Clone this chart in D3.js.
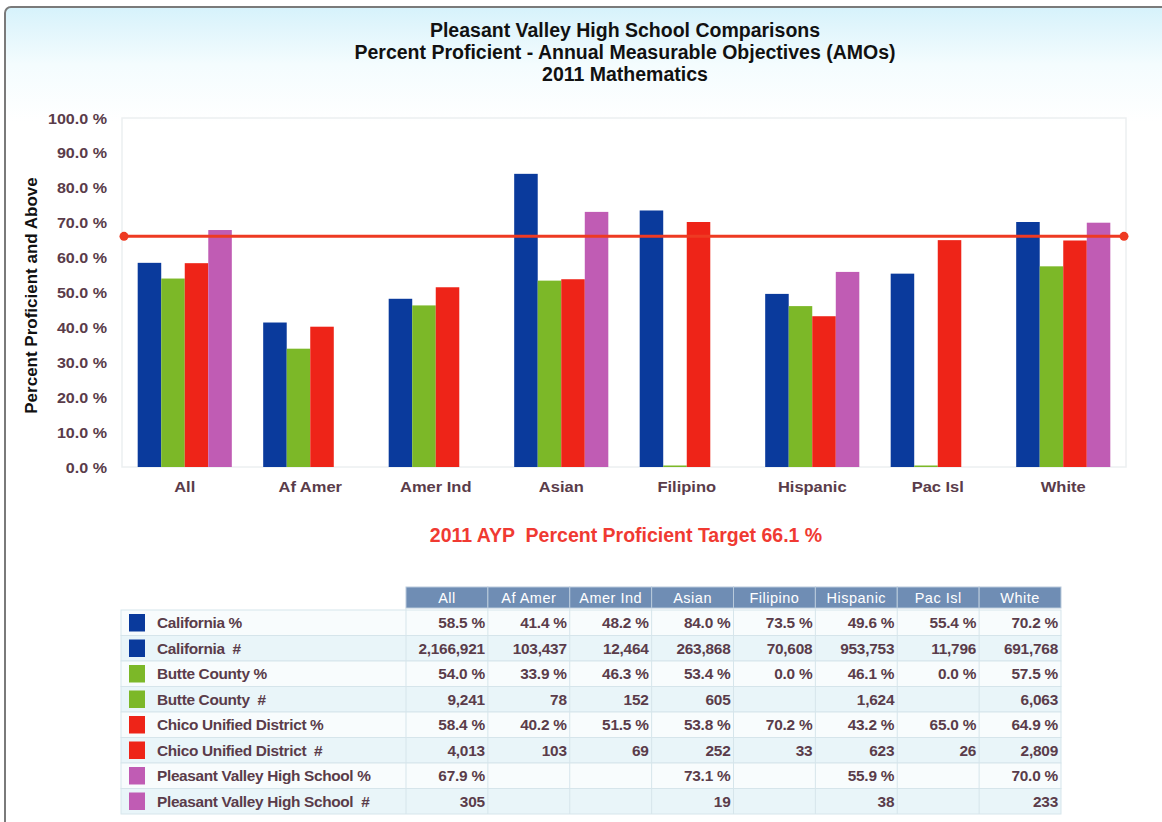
<!DOCTYPE html>
<html>
<head>
<meta charset="utf-8">
<script src="https://cdn.jsdelivr.net/npm/d3@7"></script>
<style>
  body { margin: 0; background: #fff; }
  svg { display: block; }
</style>
</head>
<body>
<svg></svg>
<script>
const width = 1162;
const height = 822;

// data
const categories = ["All", "Af Amer", "Amer Ind", "Asian", "Filipino", "Hispanic", "Pac Isl", "White"];
const seriesNames = ["California", "Butte County", "Chico Unified District", "Pleasant Valley High School"];
const californiaPct = [58.5, 41.4, 48.2, 84.0, 73.5, 49.6, 55.4, 70.2];
const buttePct = [54.0, 33.9, 46.3, 53.4, 0.0, 46.1, 0.0, 57.5];
const chicoPct = [58.4, 40.2, 51.5, 53.8, 70.2, 43.2, 65.0, 64.9];
const pvhsPct = [67.9, null, null, 73.1, null, 55.9, null, 70.0];
const californiaNum = ["2,166,921", "103,437", "12,464", "263,868", "70,608", "953,753", "11,796", "691,768"];
const butteNum = ["9,241", "78", "152", "605", "", "1,624", "", "6,063"];
const chicoNum = ["4,013", "103", "69", "252", "33", "623", "26", "2,809"];
const pvhsNum = ["305", "", "", "19", "", "38", "", "233"];
const target = 66.1;
const yTicks = [0, 10, 20, 30, 40, 50, 60, 70, 80, 90, 100];

const colors = ["#0a3a9c", "#7cb828", "#ee2418", "#c05cb4"];
const textColor = "#5a3c4a";
const font = "'Liberation Sans', Arial, sans-serif";

const pctSeries = [californiaPct, buttePct, chicoPct, pvhsPct];

const svg = d3.select("svg").attr("width", width).attr("height", height);

// frame with light gradient on top
const defs = svg.append("defs");
const grad = defs.append("linearGradient").attr("id", "bg").attr("x1", 0).attr("y1", 0).attr("x2", 0).attr("y2", 1);
grad.append("stop").attr("offset", "0").attr("stop-color", "#d6f2fb");
grad.append("stop").attr("offset", "0.07").attr("stop-color", "#f4fcfe");
grad.append("stop").attr("offset", "0.14").attr("stop-color", "#ffffff");
svg.append("rect").attr("x", 5).attr("y", 7).attr("width", width).attr("height", height)
  .attr("rx", 6).attr("fill", "url(#bg)").attr("stroke", "#7a7a7a").attr("stroke-width", 2);

// titles
const titles = ["Pleasant Valley High School Comparisons",
  "Percent Proficient - Annual Measurable Objectives (AMOs)", "2011 Mathematics"];
svg.selectAll("text.title").data(titles).join("text")
  .attr("class", "title")
  .attr("x", 625).attr("y", (d, i) => 37 + i * 22)
  .attr("text-anchor", "middle")
  .style("font-family", font).style("font-weight", "bold").style("font-size", "19.5px")
  .attr("fill", "#111").text(d => d);

// scales
const plot = { left: 122, right: 1126, top: 118, bottom: 467 };
const x0 = d3.scaleBand().domain(categories).range([plot.left, plot.right])
  .paddingInner(0.25).paddingOuter(0.125);
const x1 = d3.scaleBand().domain(d3.range(4)).range([0, x0.bandwidth()]);
const y = d3.scaleLinear().domain([0, 100]).range([plot.bottom, plot.top]);

// plot border
svg.append("rect").attr("x", plot.left).attr("y", plot.top)
  .attr("width", plot.right - plot.left).attr("height", plot.bottom - plot.top)
  .attr("fill", "none").attr("stroke", "#eceff1").attr("stroke-width", 1.5);

// y axis
const yAxis = d3.axisLeft(y).tickValues(yTicks).tickSize(0).tickPadding(13)
  .tickFormat(d => d3.format(".1f")(d) + " %");
const gy = svg.append("g").attr("transform", `translate(${plot.left},0)`).call(yAxis);
gy.select(".domain").remove();
gy.selectAll(".tick text").attr("x", 0).attr("dy", null)
  .attr("transform", "translate(-15,5) scale(1.15,1)")
  .style("font-family", font).style("font-weight", "bold")
  .style("font-size", "14px").attr("fill", textColor);

svg.append("text")
  .attr("transform", `translate(37,${(plot.top + plot.bottom) / 2 + 3}) rotate(-90)`)
  .attr("text-anchor", "middle")
  .style("font-family", font).style("font-weight", "bold").style("font-size", "17px")
  .attr("fill", "#111").text("Percent Proficient and Above");

// x axis
const xAxis = d3.axisBottom(x0).tickSize(0).tickPadding(12);
const gx = svg.append("g").attr("transform", `translate(0,${plot.bottom})`).call(xAxis);
gx.select(".domain").remove();
gx.selectAll(".tick text").attr("y", 0).attr("dy", null)
  .attr("transform", "translate(0,25) scale(1.1,1)")
  .style("font-family", font).style("font-weight", "bold")
  .style("font-size", "15px").attr("fill", textColor);

// bars
const groups = svg.append("g").selectAll("g").data(categories).join("g")
  .attr("transform", d => `translate(${x0(d)},0)`);
groups.selectAll("rect")
  .data((d, ci) => pctSeries.map((s, si) => ({ si, v: s[ci] })).filter(o => o.v !== null))
  .join("rect")
  .attr("x", d => x1(d.si))
  .attr("width", x1.bandwidth())
  .attr("y", d => d.v === 0 ? y(0) - 1.5 : y(d.v))
  .attr("height", d => d.v === 0 ? 1.5 : y(0) - y(d.v))
  .attr("fill", d => colors[d.si]);

// target line
svg.append("line")
  .attr("x1", plot.left + 2).attr("x2", plot.right - 2)
  .attr("y1", y(target)).attr("y2", y(target))
  .attr("stroke", "#ee3a22").attr("stroke-width", 3);
svg.selectAll("circle.end").data([plot.left + 2, plot.right - 2]).join("circle")
  .attr("class", "end").attr("cx", d => d).attr("cy", y(target)).attr("r", 4.5)
  .attr("fill", "#ee3a22");

svg.append("text").attr("x", 626).attr("y", 542).attr("text-anchor", "middle")
  .style("font-family", font).style("font-weight", "bold").style("font-size", "19.5px")
  .attr("fill", "#f03a32").attr("xml:space", "preserve")
  .text("2011 AYP  Percent Proficient Target 66.1 %");

// data table
const fmtPct = v => v === null ? "" : v.toFixed(1) + " %";
const rows = [
  { label: "California %", color: colors[0], vals: californiaPct.map(fmtPct) },
  { label: "California  #", color: colors[0], vals: californiaNum },
  { label: "Butte County %", color: colors[1], vals: buttePct.map(fmtPct) },
  { label: "Butte County  #", color: colors[1], vals: butteNum },
  { label: "Chico Unified District %", color: colors[2], vals: chicoPct.map(fmtPct) },
  { label: "Chico Unified District  #", color: colors[2], vals: chicoNum },
  { label: "Pleasant Valley High School %", color: colors[3], vals: pvhsPct.map(fmtPct) },
  { label: "Pleasant Valley High School  #", color: colors[3], vals: pvhsNum }
];

const table = { left: 121, colStart: 406, right: 1061, headTop: 587, headBottom: 608, bottom: 814 };
const cx = d3.scaleBand().domain(categories).range([table.colStart, table.right]);
const ry = d3.scaleBand().domain(d3.range(rows.length)).range([table.headBottom + 2, table.bottom]);

// header
svg.append("g").selectAll("rect").data(categories).join("rect")
  .attr("x", d => cx(d)).attr("y", table.headTop)
  .attr("width", cx.bandwidth()).attr("height", table.headBottom - table.headTop)
  .attr("fill", "#6f8db4").attr("stroke", "#b9cadb").attr("stroke-width", 1);
svg.append("g").selectAll("text").data(categories).join("text")
  .attr("x", d => cx(d) + cx.bandwidth() / 2).attr("y", table.headTop + 16)
  .attr("text-anchor", "middle")
  .style("font-family", font).style("font-size", "14.5px").attr("letter-spacing", "0.5px")
  .attr("fill", "#fff").text(d => d);

// row backgrounds
const rowG = svg.append("g").selectAll("g").data(rows).join("g")
  .attr("transform", (d, i) => `translate(0,${ry(i)})`);
rowG.append("rect").attr("x", table.left).attr("y", 0)
  .attr("width", table.right - table.left).attr("height", ry.bandwidth())
  .attr("fill", (d, i) => i % 2 ? "#e9f5f9" : "#f8fcfd")
  .attr("stroke", "#d6e5eb").attr("stroke-width", 1);
rowG.append("rect").attr("x", 129).attr("y", 4)
  .attr("width", 16).attr("height", ry.bandwidth() - 8)
  .attr("fill", d => d.color);
rowG.append("text")
  .attr("transform", `translate(157,${ry.bandwidth() / 2 + 5.5}) scale(1.1,1)`)
  .style("font-family", font).style("font-weight", "bold").style("font-size", "14px")
  .attr("letter-spacing", "-0.3px").attr("xml:space", "preserve")
  .attr("fill", textColor).text(d => d.label);
rowG.selectAll("text.v").data(d => d.vals.map((v, i) => ({ v, c: categories[i] }))).join("text")
  .attr("class", "v")
  .attr("transform", d => `translate(${cx(d.c) + cx.bandwidth() - 3},${ry.bandwidth() / 2 + 5.5}) scale(1.1,1)`)
  .attr("text-anchor", "end")
  .style("font-family", font).style("font-weight", "bold").style("font-size", "14px")
  .attr("letter-spacing", "-0.2px")
  .attr("fill", textColor).text(d => d.v);

// column separators
svg.append("g").selectAll("line").data(categories).join("line")
  .attr("x1", d => cx(d)).attr("x2", d => cx(d))
  .attr("y1", table.headBottom).attr("y2", table.bottom)
  .attr("stroke", "#d6e5eb");
</script>
</body>
</html>
